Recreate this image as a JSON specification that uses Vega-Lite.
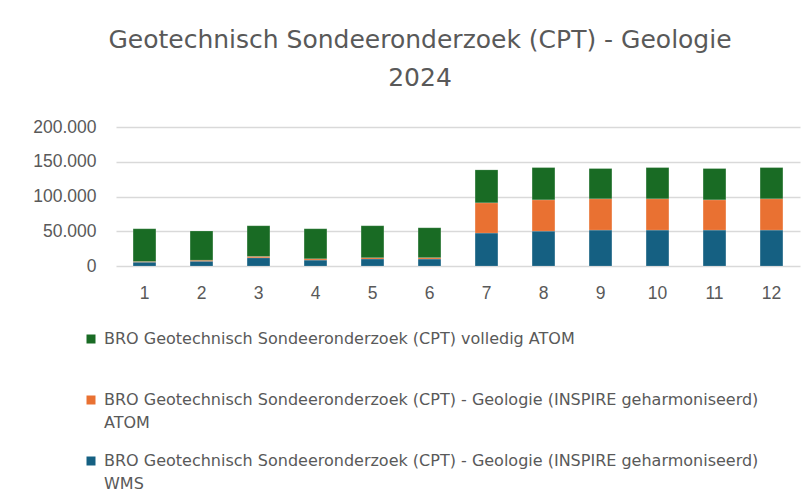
{
  "$schema": "https://vega.github.io/schema/vega-lite/v6.json",
  "width": 684,
  "height": 139,
  "autosize": "none",
  "padding": {"left": 116, "top": 127, "right": 2, "bottom": 223},
  "background": "white",
  "title": {
    "text": ["Geotechnisch Sondeeronderzoek (CPT) - Geologie", "2024"],
    "fontSize": 25,
    "font": "DejaVu Sans",
    "fontWeight": "normal",
    "color": "#595959",
    "lineHeight": 38,
    "anchor": "middle",
    "dx": -38,
    "offset": 27
  },
  "data": {
    "values": [
      {"maand": 1, "series": "BRO Geotechnisch Sondeeronderzoek (CPT) - Geologie (INSPIRE geharmoniseerd) WMS", "waarde": 5500},
      {"maand": 1, "series": "BRO Geotechnisch Sondeeronderzoek (CPT) - Geologie (INSPIRE geharmoniseerd) ATOM", "waarde": 1000},
      {"maand": 1, "series": "BRO Geotechnisch Sondeeronderzoek (CPT) volledig ATOM", "waarde": 47100},
      {"maand": 2, "series": "BRO Geotechnisch Sondeeronderzoek (CPT) - Geologie (INSPIRE geharmoniseerd) WMS", "waarde": 7000},
      {"maand": 2, "series": "BRO Geotechnisch Sondeeronderzoek (CPT) - Geologie (INSPIRE geharmoniseerd) ATOM", "waarde": 1400},
      {"maand": 2, "series": "BRO Geotechnisch Sondeeronderzoek (CPT) volledig ATOM", "waarde": 41800},
      {"maand": 3, "series": "BRO Geotechnisch Sondeeronderzoek (CPT) - Geologie (INSPIRE geharmoniseerd) WMS", "waarde": 11800},
      {"maand": 3, "series": "BRO Geotechnisch Sondeeronderzoek (CPT) - Geologie (INSPIRE geharmoniseerd) ATOM", "waarde": 2000},
      {"maand": 3, "series": "BRO Geotechnisch Sondeeronderzoek (CPT) volledig ATOM", "waarde": 44100},
      {"maand": 4, "series": "BRO Geotechnisch Sondeeronderzoek (CPT) - Geologie (INSPIRE geharmoniseerd) WMS", "waarde": 8500},
      {"maand": 4, "series": "BRO Geotechnisch Sondeeronderzoek (CPT) - Geologie (INSPIRE geharmoniseerd) ATOM", "waarde": 1900},
      {"maand": 4, "series": "BRO Geotechnisch Sondeeronderzoek (CPT) volledig ATOM", "waarde": 43200},
      {"maand": 5, "series": "BRO Geotechnisch Sondeeronderzoek (CPT) - Geologie (INSPIRE geharmoniseerd) WMS", "waarde": 10000},
      {"maand": 5, "series": "BRO Geotechnisch Sondeeronderzoek (CPT) - Geologie (INSPIRE geharmoniseerd) ATOM", "waarde": 2000},
      {"maand": 5, "series": "BRO Geotechnisch Sondeeronderzoek (CPT) volledig ATOM", "waarde": 45900},
      {"maand": 6, "series": "BRO Geotechnisch Sondeeronderzoek (CPT) - Geologie (INSPIRE geharmoniseerd) WMS", "waarde": 10000},
      {"maand": 6, "series": "BRO Geotechnisch Sondeeronderzoek (CPT) - Geologie (INSPIRE geharmoniseerd) ATOM", "waarde": 2000},
      {"maand": 6, "series": "BRO Geotechnisch Sondeeronderzoek (CPT) volledig ATOM", "waarde": 43000},
      {"maand": 7, "series": "BRO Geotechnisch Sondeeronderzoek (CPT) - Geologie (INSPIRE geharmoniseerd) WMS", "waarde": 47400},
      {"maand": 7, "series": "BRO Geotechnisch Sondeeronderzoek (CPT) - Geologie (INSPIRE geharmoniseerd) ATOM", "waarde": 43500},
      {"maand": 7, "series": "BRO Geotechnisch Sondeeronderzoek (CPT) volledig ATOM", "waarde": 47400},
      {"maand": 8, "series": "BRO Geotechnisch Sondeeronderzoek (CPT) - Geologie (INSPIRE geharmoniseerd) WMS", "waarde": 50200},
      {"maand": 8, "series": "BRO Geotechnisch Sondeeronderzoek (CPT) - Geologie (INSPIRE geharmoniseerd) ATOM", "waarde": 45000},
      {"maand": 8, "series": "BRO Geotechnisch Sondeeronderzoek (CPT) volledig ATOM", "waarde": 46400},
      {"maand": 9, "series": "BRO Geotechnisch Sondeeronderzoek (CPT) - Geologie (INSPIRE geharmoniseerd) WMS", "waarde": 51700},
      {"maand": 9, "series": "BRO Geotechnisch Sondeeronderzoek (CPT) - Geologie (INSPIRE geharmoniseerd) ATOM", "waarde": 45000},
      {"maand": 9, "series": "BRO Geotechnisch Sondeeronderzoek (CPT) volledig ATOM", "waarde": 43500},
      {"maand": 10, "series": "BRO Geotechnisch Sondeeronderzoek (CPT) - Geologie (INSPIRE geharmoniseerd) WMS", "waarde": 51700},
      {"maand": 10, "series": "BRO Geotechnisch Sondeeronderzoek (CPT) - Geologie (INSPIRE geharmoniseerd) ATOM", "waarde": 45000},
      {"maand": 10, "series": "BRO Geotechnisch Sondeeronderzoek (CPT) volledig ATOM", "waarde": 44900},
      {"maand": 11, "series": "BRO Geotechnisch Sondeeronderzoek (CPT) - Geologie (INSPIRE geharmoniseerd) WMS", "waarde": 51700},
      {"maand": 11, "series": "BRO Geotechnisch Sondeeronderzoek (CPT) - Geologie (INSPIRE geharmoniseerd) ATOM", "waarde": 43500},
      {"maand": 11, "series": "BRO Geotechnisch Sondeeronderzoek (CPT) volledig ATOM", "waarde": 45000},
      {"maand": 12, "series": "BRO Geotechnisch Sondeeronderzoek (CPT) - Geologie (INSPIRE geharmoniseerd) WMS", "waarde": 51700},
      {"maand": 12, "series": "BRO Geotechnisch Sondeeronderzoek (CPT) - Geologie (INSPIRE geharmoniseerd) ATOM", "waarde": 45000},
      {"maand": 12, "series": "BRO Geotechnisch Sondeeronderzoek (CPT) volledig ATOM", "waarde": 44900}
    ]
  },
  "transform": [
    {
      "calculate": "indexof(['BRO Geotechnisch Sondeeronderzoek (CPT) - Geologie (INSPIRE geharmoniseerd) WMS', 'BRO Geotechnisch Sondeeronderzoek (CPT) - Geologie (INSPIRE geharmoniseerd) ATOM', 'BRO Geotechnisch Sondeeronderzoek (CPT) volledig ATOM'], datum.series)",
      "as": "stapelvolgorde"
    }
  ],
  "mark": {"type": "bar", "stroke": "white", "strokeOpacity": 0.3, "strokeWidth": 0.5},
  "encoding": {
    "x": {
      "field": "maand",
      "type": "ordinal",
      "scale": {"paddingInner": 0.6, "paddingOuter": 0.3},
      "axis": {
        "title": null,
        "labelAngle": 0,
        "labelFont": "Liberation Sans",
        "labelFontSize": 17.5,
        "labelColor": "#595959",
        "labelPadding": 18,
        "ticks": false,
        "domain": false
      }
    },
    "y": {
      "field": "waarde",
      "type": "quantitative",
      "stack": "zero",
      "scale": {"domain": [0, 200000], "nice": false},
      "axis": {
        "title": null,
        "values": [0, 50000, 100000, 150000, 200000],
        "labelExpr": "replace(format(datum.value, ','), ',', '.')",
        "labelFont": "Liberation Sans",
        "labelFontSize": 17.5,
        "labelColor": "#595959",
        "labelPadding": 20,
        "ticks": false,
        "domain": false,
        "gridColor": "#d9d9d9",
        "gridWidth": 1.3
      }
    },
    "color": {
      "field": "series",
      "type": "nominal",
      "scale": {
        "domain": [
          "BRO Geotechnisch Sondeeronderzoek (CPT) volledig ATOM",
          "BRO Geotechnisch Sondeeronderzoek (CPT) - Geologie (INSPIRE geharmoniseerd) ATOM",
          "BRO Geotechnisch Sondeeronderzoek (CPT) - Geologie (INSPIRE geharmoniseerd) WMS"
        ],
        "range": ["#196B24", "#E97132", "#156082"]
      },
      "legend": {
        "title": null,
        "orient": "none",
        "legendX": -33,
        "legendY": 204,
        "direction": "vertical",
        "symbolType": "square",
        "symbolSize": 81,
        "symbolStrokeWidth": 0,
        "labelFont": "DejaVu Sans",
        "labelFontSize": 16,
        "labelColor": "#595959",
        "labelLimit": 800,
        "labelOffset": 5,
        "rowPadding": 22,
        "labelExpr": "datum.label == 'BRO Geotechnisch Sondeeronderzoek (CPT) volledig ATOM' ? [datum.label, '\u00a0'] : [substring(datum.label, 0, 75), substring(datum.label, 76)]"
      }
    },
    "order": {"field": "stapelvolgorde", "type": "quantitative", "sort": "ascending"}
  },
  "config": {
    "view": {"stroke": null},
    "style": {"guide-label": {"lineHeight": 23}}
  }
}
